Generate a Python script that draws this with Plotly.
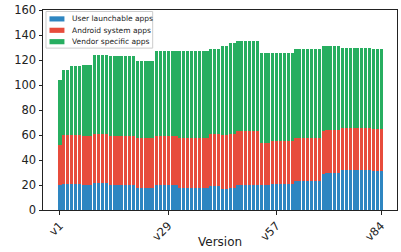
import plotly.graph_objects as go

versions = [f"v{i}" for i in range(1, 85)]

# cumulative readings per run of bars: (count, user, user+android, total)
runs = [
    (1, 20, 52, 104),
    (2, 21, 60, 112),
    (3, 21, 60, 115),
    (3, 20, 59, 116),
    (4, 22, 61, 124),
    (7, 20, 59, 123),
    (5, 18, 58, 119),
    (6, 20, 59, 127),
    (8, 18, 58, 127),
    (3, 19, 61, 129),
    (2, 17, 60, 131),
    (2, 18, 61, 134),
    (6, 20, 63, 135),
    (3, 20, 54, 126),
    (6, 21, 55, 126),
    (7, 23, 58, 129),
    (1, 29, 63, 131),
    (4, 30, 64, 131),
    (8, 32, 66, 130),
    (3, 31, 65, 129),
]

user_apps = []
android_apps = []
vendor_apps = []
for n, b, r, t in runs:
    user_apps += [b] * n
    android_apps += [r - b] * n
    vendor_apps += [t - r] * n

tick_labels = ["v1", "v29", "v57", "v84"]
series_names = ["User launchable apps", "Android system apps", "Vendor specific apps"]
colors = ["#2E86C1", "#E74C3C", "#27AE60"]

font = "DejaVu Sans"
W, H = 401, 252
ml, mr, mt, mb = 43, 3, 8, 42
pw, ph = W - ml - mr, H - mt - mb


def px(x):
    return (x - ml) / pw


def py(y):
    return 1 - (y - mt) / ph


fig = go.Figure()
for name, vals, c in zip(series_names, [user_apps, android_apps, vendor_apps], colors):
    fig.add_bar(x=versions, y=vals, name=name, marker_color=c, marker_line_width=0)

shapes = [dict(type="rect", xref="paper", yref="paper",
               x0=px(46), x1=px(153), y0=py(46.5), y1=py(9.5),
               line=dict(color="#cccccc", width=1), fillcolor="rgba(255,255,255,0.85)",
               layer="above")]
annotations = []
centers = [17, 28.5, 40]
for name, c, cy in zip(series_names, colors, centers):
    shapes.append(dict(type="rect", xref="paper", yref="paper",
                       x0=px(49.5), x1=px(64.5), y0=py(cy + 2.6), y1=py(cy - 2.6),
                       line=dict(width=0), fillcolor=c, layer="above"))
    annotations.append(dict(xref="paper", yref="paper", x=px(70), y=py(cy),
                            xanchor="left", yanchor="middle", showarrow=False,
                            text=name, font=dict(size=7.5, family=font, color="#222")))
annotations.append(dict(xref="paper", yref="paper", x=0.5, y=py(242),
                        xanchor="center", yanchor="middle", showarrow=False,
                        text="Version", font=dict(size=12, family=font, color="#222")))

fig.update_layout(
    barmode="stack",
    bargap=0.2,
    width=W, height=H,
    margin=dict(l=ml, r=mr, t=mt, b=mb),
    plot_bgcolor="white", paper_bgcolor="white",
    font=dict(family=font, size=12, color="#222"),
    showlegend=False,
    hovermode=False,
    shapes=shapes,
    annotations=annotations,
    xaxis=dict(
        type="category",
        range=[-4.38, 87.1],
        tickmode="array", tickvals=tick_labels, ticktext=tick_labels,
        tickangle=-45,
        ticks="outside", ticklen=3.5, tickcolor="#222",
        showline=True, linecolor="#222", linewidth=1, mirror=True,
        showgrid=False,
        tickfont=dict(size=11.5),
    ),
    yaxis=dict(
        range=[0, 160],
        tickvals=[0, 20, 40, 60, 80, 100, 120, 140, 160],
        ticks="outside", ticklen=3.5, tickcolor="#222",
        showline=True, linecolor="#222", linewidth=1, mirror=True,
        showgrid=False, zeroline=False,
        tickfont=dict(size=11.5),
    ),
)

fig.write_html("out.html", config={"displayModeBar": False},
               post_script="document.body.style.margin='0';document.body.style.overflow='hidden';")
